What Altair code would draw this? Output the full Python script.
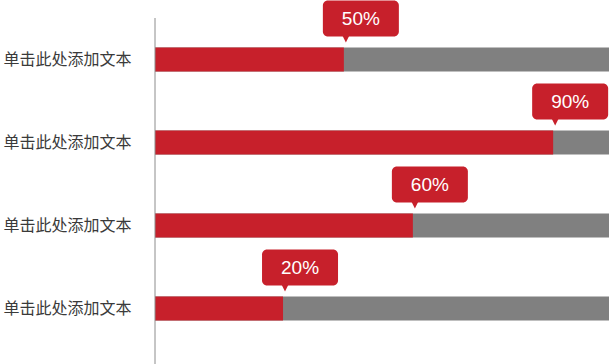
import altair as alt
import pandas as pd

categories = ["单击此处添加文本", "单击此处添加文本", "单击此处添加文本", "单击此处添加文本"]
values = [0.416, 0.877, 0.568, 0.282]
pct_labels = ["50%", "90%", "60%", "20%"]

RED = "#c7202b"
GRAY = "#808080"

df = pd.DataFrame({
    "idx": list(range(len(categories))),
    "cat": categories,
    "v": values,
    "full": [1.0] * len(values),
    "pct": pct_labels,
})

label_expr = "[" + ",".join("'" + c + "'" for c in categories) + "][datum.value]"

xs = alt.Scale(domain=[0, 1], nice=False, zero=True)
ys = alt.Scale(paddingInner=0, paddingOuter=0)
Y = alt.Y("idx:O", scale=ys, title=None,
          axis=alt.Axis(labelExpr=label_expr, domain=False, ticks=False, tickSize=0,
                        labelPadding=24, labelFontSize=16, labelColor="#3a3a3a",
                        labelFont="Noto Sans CJK SC", labelAlign="right"))

base = alt.Chart(df)

bg = base.mark_bar(color=GRAY, size=24).encode(x=alt.X("full:Q", scale=xs, axis=None), y=Y)
fg = base.mark_bar(color=RED, size=24).encode(x=alt.X("v:Q", scale=xs, axis=None), y=Y)

bubble = base.mark_bar(color=RED, size=36, cornerRadius=5, xOffset=-21, x2Offset=55, yOffset=-41).encode(
    x=alt.X("v:Q", scale=xs, axis=None), x2="v:Q", y=Y)

pointer = base.mark_point(shape="M-1,-2L1,-2L0,0Z", size=100, filled=True, color=RED, opacity=1,
                          strokeWidth=0, xOffset=2, yOffset=-17).encode(
    x=alt.X("v:Q", scale=xs, axis=None), y=Y)

txt = base.mark_text(color="white", fontSize=19, font="Liberation Sans", align="center",
                     baseline="middle", xOffset=17, yOffset=-41).encode(
    x=alt.X("v:Q", scale=xs, axis=None), y=Y, text="pct:N")

axis_line = alt.Chart(pd.DataFrame({"a": [0]})).mark_rule(color="#8c8c8c", strokeWidth=1).encode(
    x=alt.value(0), y=alt.value(0), y2=alt.value(346))

chart = alt.layer(bg, fg, axis_line, bubble, pointer, txt).properties(
    width=454, height=332,
    padding={"left": 155, "top": 18, "right": 0, "bottom": 14},
    autosize="none",
    background="white",
).configure_view(stroke=None, strokeWidth=0)

chart.save("out.html", embed_options={"renderer": "svg", "actions": False})
